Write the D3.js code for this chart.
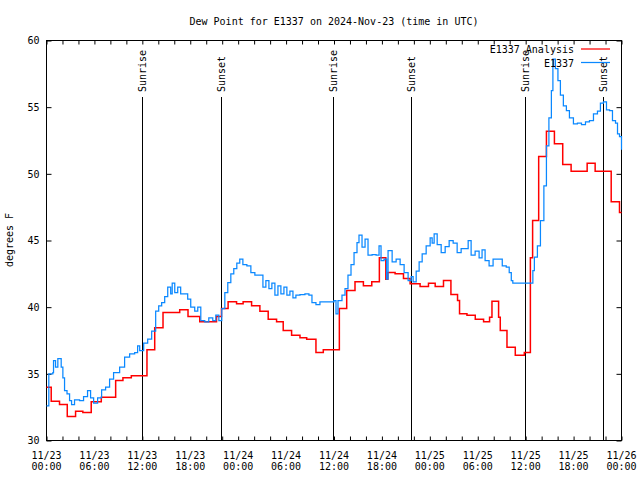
<!DOCTYPE html>
<html><head><meta charset="utf-8">
<script src="https://cdn.jsdelivr.net/npm/d3@7"></script>
<style>
body{margin:0;background:#fff}
svg{display:block}
text{font-family:"DejaVu Sans Mono",monospace;font-size:10px;fill:#000}
</style>
</head><body><svg id="chart" width="640" height="480"></svg>
<script>
// ---------- data ----------
const startDate = "2024-11-23T00:00:00Z";
const spanHours = 72;
const titleText = "Dew Point for E1337 on 2024-Nov-23 (time in UTC)";
const yLabelText = "degrees F";
const seriesNames = ["E1337 Analysis", "E1337"];

const redHours = [0,0.59,1.63,2.6,3.64,4.55,5.6,6.86,8.66,9.57,10.62,12.58,13.55,14.59,16.68,17.72,19.19,21.29,21.91,22.74,23.8,24.62,25.68,26.72,27.76,28.81,29.64,30.69,31.74,32.58,33.74,34.66,36.67,37.59,38.63,39.68,40.73,41.68,42.49,42.74,43.65,44.7,45.53,46.78,47.83,48.67,49.71,50.64,51.47,51.72,52.65,53.69,54.73,55.48,55.78,56.61,56.82,57.66,58.7,59.83,60.59,60.87,61.63,62.6,63.6,64.64,65.69,67.7,68.7,70.71,71.75,72];
const redValues = [34.0,32.95,32.7,31.8,32.2,32.1,32.9,33.25,34.5,34.7,34.85,36.8,38.45,39.6,39.8,39.3,38.9,39.3,39.9,40.4,40.25,40.4,40.1,39.7,39.1,38.9,38.25,37.9,37.7,37.6,36.6,36.8,39.9,41.25,41.9,41.6,41.9,43.7,42.1,42.6,42.5,42.15,41.75,41.55,41.8,41.55,42.0,40.95,40.5,39.5,39.4,39.1,38.9,39.25,40.45,39.25,38.25,37.0,36.4,36.6,43.7,46.5,51.3,53.2,52.25,50.7,50.2,50.8,50.2,47.9,47.1,47.1];

const blueHours = [0,0.29,0.79,0.88,1.13,1.42,1.84,2.05,2.26,2.57,2.89,3.14,3.51,4.14,4.64,5.14,5.52,5.9,6.4,6.9,7.4,7.9,8.4,9.16,9.78,10.41,11.04,11.41,11.67,12.17,12.67,13.17,13.67,14.05,14.42,14.8,15.18,15.55,15.74,16.06,16.43,16.8,17.3,17.68,18.06,18.56,18.94,19.32,19.82,20.32,20.82,21.2,21.58,21.95,22.33,22.7,23.08,23.45,23.83,24.2,24.59,25.09,25.59,26.09,27.1,27.47,27.85,28.22,28.6,28.98,29.35,29.73,30.1,30.48,30.86,31.23,31.74,32.36,32.86,33.24,33.74,34.24,36.0,36.25,36.5,37.0,37.38,37.75,38.13,38.51,38.88,39.13,39.51,39.89,40.26,40.77,41.27,41.64,41.89,42.27,42.59,42.77,43.28,43.78,44.28,44.78,45.28,45.66,45.91,46.29,46.66,47.04,47.54,48.04,48.29,48.54,48.92,49.42,49.92,50.42,50.92,51.42,51.92,52.42,52.8,53.17,53.67,54.17,54.54,54.92,55.42,55.92,56.55,57.07,57.57,57.94,58.2,58.39,60.9,61.09,61.47,61.85,62.28,62.6,62.91,63.22,63.41,63.72,64.04,64.35,64.72,65.1,65.48,65.98,66.48,66.99,67.49,67.99,68.49,68.99,69.36,69.74,70.12,70.5,70.87,71.25,71.5,71.75,72];
const blueValues = [32.6,35.0,35.1,36.0,35.5,36.15,35.5,34.7,33.75,33.5,33.0,32.7,33.05,33.0,33.3,33.75,33.2,32.8,33.2,33.8,34.0,34.6,35.1,35.5,36.25,36.5,36.6,37.1,36.75,37.3,37.6,38.2,39.7,40.1,40.35,40.8,41.5,41.0,41.8,41.1,41.5,41.0,41.0,40.6,40.0,39.7,40.0,39.0,38.9,39.2,39.0,39.4,39.0,39.9,41.1,41.85,42.5,42.9,43.3,43.6,43.2,43.1,42.6,42.4,41.5,42.0,41.4,41.8,40.9,41.6,41.0,41.5,40.9,41.2,40.7,40.9,40.95,41.0,40.9,40.35,40.2,40.4,40.5,39.5,40.5,40.9,41.4,42.4,43.2,44.1,44.85,45.4,44.5,45.1,43.9,43.95,43.9,44.6,43.5,43.6,42.1,44.25,43.4,43.6,43.2,42.6,42.0,42.3,41.9,42.7,43.4,44.0,44.6,45.2,44.8,45.5,44.7,44.1,44.55,45.0,44.8,44.1,44.4,44.4,45.0,43.9,44.2,43.7,44.3,43.5,43.1,43.6,43.6,43.1,43.0,42.6,42.0,41.8,42.75,43.75,44.6,46.5,49.1,52.1,54.2,56.25,58.6,57.9,57.0,55.9,55.1,54.75,54.2,53.75,53.8,53.7,53.9,54.0,54.5,54.7,55.3,55.4,54.8,54.75,54.0,53.8,53.0,52.8,51.8];

const eventHours = [11.92, 21.83, 35.88, 45.66, 59.96, 69.74];
const eventLabels = ["Sunrise", "Sunset", "Sunrise", "Sunset", "Sunrise", "Sunset"];
const yTickValues = [30, 35, 40, 45, 50, 55, 60];

// ---------- drawing ----------
(function () {
const svg = d3.select("#chart");
const pL = 46.5, pR = 621.5, pT = 40.5, pB = 440.5;
const t0 = new Date(startDate);
const toDate = h => new Date(t0.getTime() + h * 3600e3);

const x = d3.scaleUtc().domain([toDate(0), toDate(spanHours)]).range([pL, pR]);
const y = d3.scaleLinear().domain([30, 60]).range([pB, pT]);

// title
svg.append("text").attr("x", (pL + pR) / 2).attr("y", 25)
  .attr("text-anchor", "middle").text(titleText);

// y label
svg.append("text").attr("transform", "translate(13,240) rotate(-90)")
  .attr("text-anchor", "middle").text(yLabelText);

// axes (ticks inward)
const minorTicks = d3.utcHour.every(2);
svg.append("g").attr("transform", `translate(0,${pB})`)
  .call(d3.axisBottom(x).ticks(minorTicks).tickSize(-4).tickFormat(""))
  .call(g => g.select(".domain").remove());
svg.append("g").attr("transform", `translate(0,${pT})`)
  .call(d3.axisTop(x).ticks(minorTicks).tickSize(-4).tickFormat(""))
  .call(g => g.select(".domain").remove());
svg.append("g").attr("transform", `translate(${pL},0)`)
  .call(d3.axisLeft(y).tickValues(yTickValues).tickSize(-5).tickPadding(7).tickFormat(d3.format("d")))
  .call(g => g.select(".domain").remove())
  .call(g => g.selectAll("text").attr("font-family", "DejaVu Sans Mono").attr("font-size", 10).attr("fill", "#000"));
svg.append("g").attr("transform", `translate(${pR},0)`)
  .call(d3.axisRight(y).tickValues(yTickValues).tickSize(-5).tickFormat(""))
  .call(g => g.select(".domain").remove());

// x tick labels (two lines)
const fmtDay = d3.utcFormat("%m/%d"), fmtTime = d3.utcFormat("%H:%M");
const labelTicks = x.ticks(d3.utcHour.every(6));
const xl = svg.append("g");
labelTicks.forEach(d => {
  const t = xl.append("text").attr("text-anchor", "middle");
  t.append("tspan").attr("x", x(d)).attr("y", 459).text(fmtDay(d));
  t.append("tspan").attr("x", x(d)).attr("y", 470).text(fmtTime(d));
});

// border
svg.append("rect").attr("x", pL).attr("y", pT).attr("width", pR - pL).attr("height", pB - pT)
  .attr("fill", "none").attr("stroke", "#000").attr("stroke-width", 1);

// sunrise / sunset markers
eventHours.forEach((h, i) => {
  const ex = Math.round(x(toDate(h))) + 0.5;
  svg.append("line").attr("x1", ex).attr("x2", ex).attr("y1", pB).attr("y2", 97)
    .attr("stroke", "#000").attr("stroke-width", 1);
  svg.append("text").attr("transform", `translate(${ex + 3.5},92) rotate(-90)`)
    .attr("text-anchor", "start").text(eventLabels[i]);
});

// series
const line = d3.line().curve(d3.curveStepAfter).x(d => x(toDate(d[0]))).y(d => y(d[1]));
const redData = redHours.map((h, i) => [h, redValues[i]]);
const blueData = blueHours.map((h, i) => [h, blueValues[i]]);
svg.append("path").datum(redData).attr("d", line)
  .attr("fill", "none").attr("stroke", "#ff0000").attr("stroke-width", 1.5);
svg.append("path").datum(blueData).attr("d", line)
  .attr("fill", "none").attr("stroke", "#0a88ff").attr("stroke-width", 1.25);

// legend
const legendColors = ["#ff0000", "#0a88ff"];
seriesNames.forEach((n, i) => {
  const ly = 49 + i * 13.5;
  svg.append("text").attr("x", 574).attr("y", ly + 4).attr("text-anchor", "end").text(n);
  svg.append("line").attr("x1", 581).attr("x2", 610).attr("y1", ly).attr("y2", ly)
    .attr("stroke", legendColors[i]).attr("stroke-width", 1.25);
});
})();
</script>
</body></html>
